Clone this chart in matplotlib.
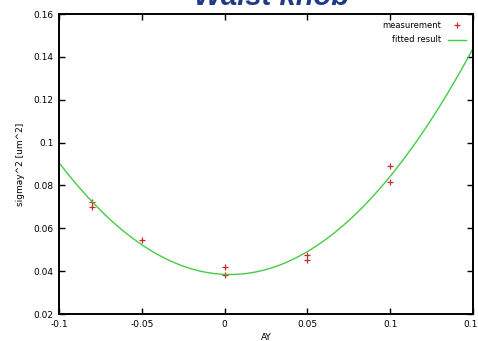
import matplotlib
matplotlib.use("Agg")
import matplotlib.pyplot as plt
import numpy as np

knob_ay = [-0.08, -0.08, -0.05, 0.0, 0.0, 0.05, 0.05, 0.1, 0.1]
sigma_y2 = [0.0724, 0.0701, 0.0547, 0.0421, 0.0382, 0.0474, 0.0451, 0.0891, 0.0817]

x_ticks = [-0.1, -0.05, 0, 0.05, 0.1, 0.15]
x_tick_labels = ["-0.1", "-0.05", "0", "0.05", "0.1", "0.15"]
y_ticks = [0.02, 0.04, 0.06, 0.08, 0.1, 0.12, 0.14, 0.16]
y_tick_labels = ["0.02", "0.04", "0.06", "0.08", "0.1", "0.12", "0.14", "0.16"]

# parabola fitted to the measurements
coef = np.polyfit(knob_ay, sigma_y2, 2)
x_fit = np.linspace(-0.1, 0.15, 300)
y_fit = np.polyval(coef, x_fit)

fig = plt.figure(figsize=(4.78, 3.41), dpi=100)
ax = fig.add_axes([59 / 478, 1 - 314 / 341, 414 / 478, 300 / 341])

ax.plot(knob_ay, sigma_y2, linestyle="none", marker="+", color="#cc2a2a",
        markersize=5, markeredgewidth=0.9, label="measurement")
ax.plot(x_fit, y_fit, color="#44cc44", linewidth=1.0, label="fitted result")

ax.set_xlim(-0.1, 0.15)
ax.set_ylim(0.02, 0.16)
ax.set_xticks(x_ticks)
ax.set_xticklabels(x_tick_labels)
ax.set_yticks(y_ticks)
ax.set_yticklabels(y_tick_labels)
ax.tick_params(direction="in", length=4, width=1.0, top=True, right=True,
               labelsize=6.5, pad=4)
for side in ax.spines.values():
    side.set_linewidth(1.4)

ax.set_xlabel("AY", fontsize=6.5, labelpad=3)
ax.set_ylabel("sigmay^2 [um^2]", fontsize=6.5, labelpad=6)

ax.legend(loc="upper right", frameon=False, markerfirst=False, fontsize=6,
          handlelength=2.2, labelspacing=0.7, borderaxespad=0.4)

# title sits mostly above the top edge, as in the original slide crop
fig.text(0.569, 1 - 5 / 341, "Waist knob", ha="center", va="baseline",
         fontsize=21, fontweight="bold", style="italic",
         family="Liberation Sans", color="#1f3a8a")

fig.savefig("out.png", dpi=100)
